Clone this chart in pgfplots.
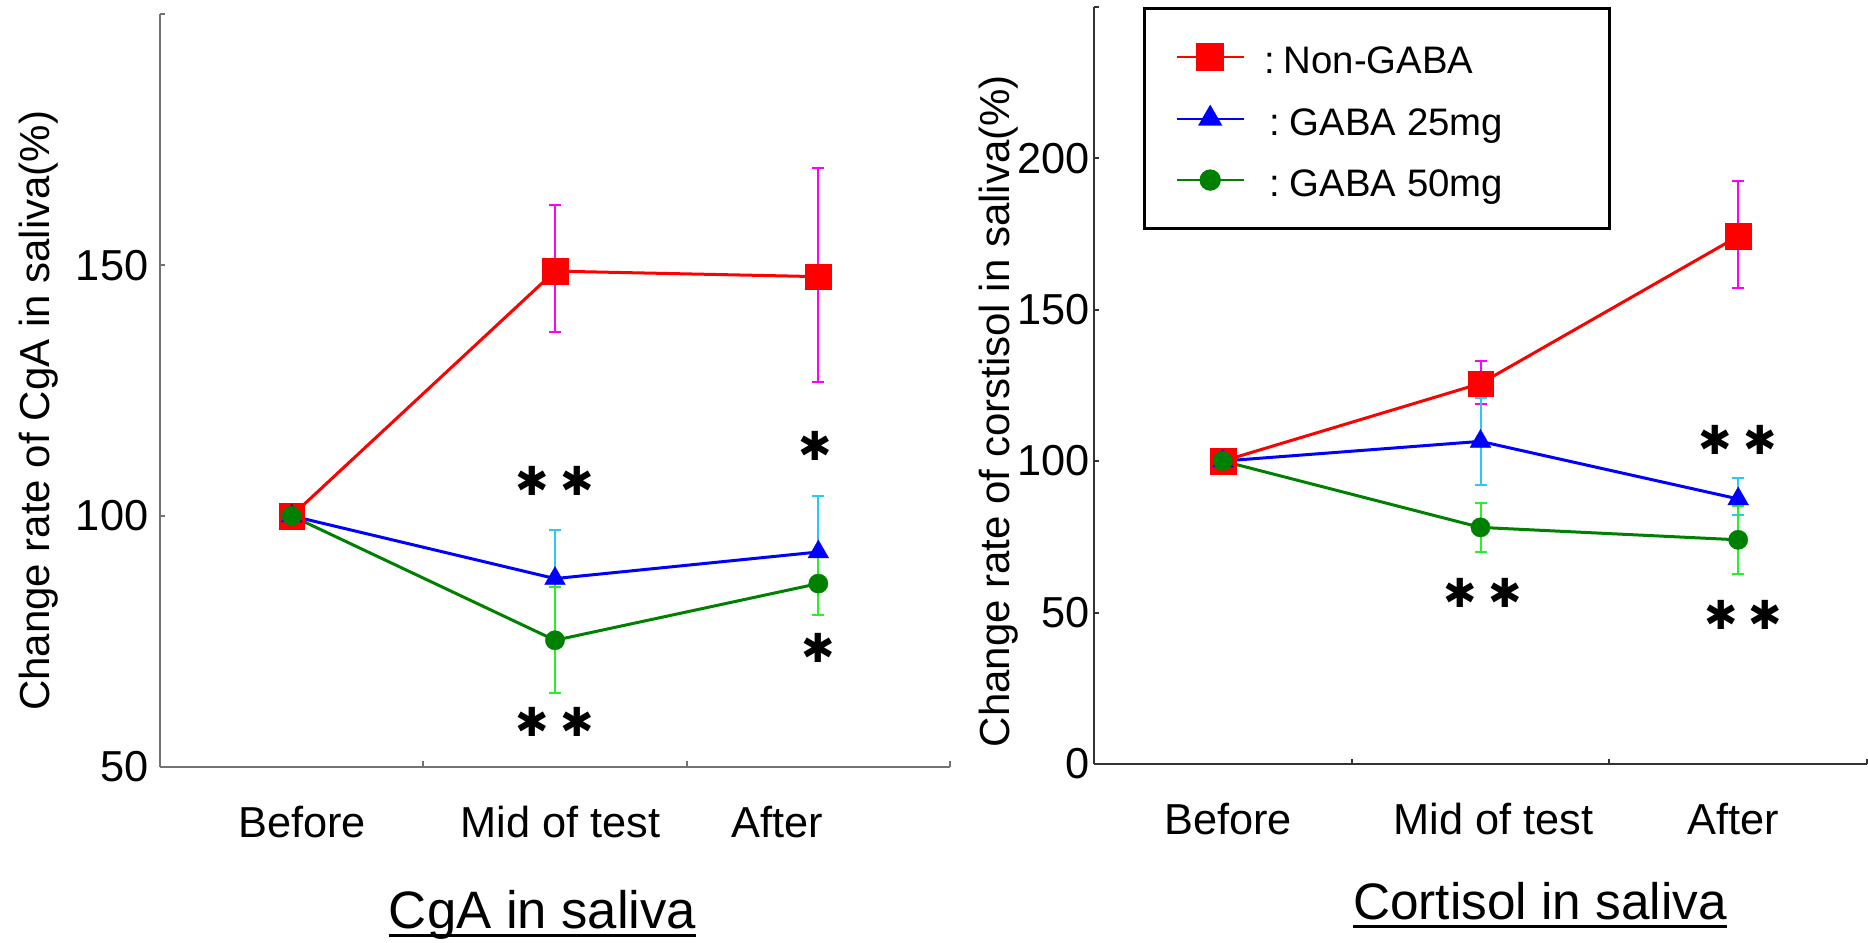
\documentclass[border=0pt]{standalone}
\usepackage{pgfplots}
\usepackage{pgfplotstable}
\pgfplotsset{compat=1.18}
\usepackage{fontspec}
\setmainfont{Liberation Sans}
\newfontfamily\dejavu{DejaVu Sans}
\definecolor{cred}{RGB}{255,0,0}
\definecolor{cblue}{RGB}{0,0,255}
\definecolor{cgreen}{RGB}{0,128,0}
\definecolor{emag}{RGB}{255,0,255}
\definecolor{ecyan}{RGB}{40,200,255}
\definecolor{egreen}{RGB}{40,240,40}
\newcommand\ulx[1]{\setbox0\hbox{#1}\rlap{\rule[-2.4pt]{\wd0}{0.75pt}}\box0}
\newcommand\st{{\dejavu ✱}}
\newcommand\sts{{\dejavu ✱\hspace{3.4pt}✱}}
\newcommand\lstrut{\rule[-2.95pt]{0pt}{14.4pt}}
\tikzset{asterisk/.style={font=\fontsize{12}{12}\selectfont, inner sep=0pt}}

% CgA in saliva
\pgfplotstableread{
x y ep em
1 100 0 0
2 148.8 13.1 12.2
3 147.7 21.7 21.0
}\cgared
\pgfplotstableread{
x y ep em
1 100 0 0
2 87.5 9.6 12.3
3 92.8 11.2 6.3
}\cgablue
\pgfplotstableread{
x y ep em
1 100 0 0
2 75.2 10.6 10.6
3 86.5 6.3 6.3
}\cgagreen
% Cortisol in saliva
\pgfplotstableread{
x y ep em
1 100 0 0
2 125.6 7.3 6.9
3 174.2 18.1 17.2
}\corred
\pgfplotstableread{
x y ep em
1 100 0 0
2 106.5 14.4 14.5
3 87.5 6.9 5.2
}\corblue
\pgfplotstableread{
x y ep em
1 100 0 0
2 78.1 8.1 8.1
3 74.0 11.3 11.3
}\corgreen

\pgfplotsset{
  panel/.style={
    scale only axis,
    axis x line*=bottom, axis y line*=left,
    xtick pos=bottom, ytick pos=left,
    xmin=0.5, xmax=3.5,
    xtick={1.5,2.5,3.5}, xticklabels={,,},
    tick align=inside, major tick length=1.6pt,
    clip=false,
    /pgf/number format/assume math mode=true,
    tick label style={font=\fontsize{13}{14}\selectfont},
    label style={font=\fontsize{12.6}{14}\selectfont},
    x tick label style={yshift=-8.3pt},
  },
  errs/.style={
    error bars/y dir=both, error bars/y explicit, error bars/error mark=|,
    error bars/error bar style={#1, line width=0.6pt},
    error bars/error mark options={#1, line width=0.6pt, mark size=1.8pt}},
  pred/.style={cred, line width=0.9pt, mark=square*, mark size=3.85pt,
    mark options={solid, fill=cred, draw=cred, line width=0.1pt}, errs=emag},
  pblue/.style={cblue, line width=0.9pt, mark=triangle*, mark size=3.6pt,
    mark options={solid, fill=cblue, draw=cblue, line width=0.1pt}, errs=ecyan},
  pgreen/.style={cgreen, line width=0.9pt, mark=*, mark size=2.9pt,
    mark options={solid, fill=cgreen, draw=cgreen, line width=0.1pt}, errs=egreen},
}

\begin{document}
\begin{tikzpicture}
\path[use as bounding box] (0,0) rectangle (560.4pt,-282.9pt);

% ---------- left panel ----------
\begin{axis}[panel,
  at={(48pt,-230pt)}, anchor=south west,
  width=237pt, height=225.7pt,
  ymin=50, ymax=200,
  ytick={50,100,150,200}, yticklabels={50,100,150,{}},
  axis line style={black!55, line width=0.6pt},
  every tick/.style={black!55, line width=0.6pt},
  extra x ticks={1.04,2.02,2.845},
  extra x tick labels={Before, Mid of test, After},
  extra x tick style={major tick length=0pt},
  ylabel={Change rate of CgA in saliva(\%)},
  ylabel style={at={(axis description cs:-0.153,0.473)}, anchor=center},
]
\addplot[pred] table[x=x, y=y, y error plus=ep, y error minus=em] {\cgared};
\addplot[pblue] table[x=x, y=y, y error plus=ep, y error minus=em] {\cgablue};
\addplot[pgreen] table[x=x, y=y, y error plus=ep, y error minus=em] {\cgagreen};
\node[asterisk] at (axis cs:2,107) {\sts};
\node[asterisk] at (axis cs:2.99,114) {\st};
\node[asterisk] at (axis cs:3.0,73.6) {\st};
\node[asterisk] at (axis cs:2,59) {\sts};
\end{axis}

% ---------- right panel ----------
\begin{axis}[panel,
  at={(328.2pt,-229.2pt)}, anchor=south west,
  width=231.9pt, height=227.2pt,
  ymin=0, ymax=250,
  ytick={0,50,100,150,200,250}, yticklabels={0,50,100,150,200,{}},
  y tick label style={inner xsep=1.2pt},
  axis line style={black!80, line width=0.6pt},
  every tick/.style={black!80, line width=0.6pt},
  extra x ticks={1.02,2.05,2.98},
  extra x tick labels={Before, Mid of test, After},
  extra x tick style={major tick length=0pt},
  ylabel={Change rate of corstisol in saliva(\%)},
  ylabel style={at={(axis description cs:-0.124,0.466)}, anchor=center},
  legend image code/.code={\draw[mark repeat=2, mark phase=2, #1] plot coordinates {(0pt,0pt) (10pt,0pt) (20pt,0pt)};},
  legend cell align=left,
  legend style={at={(rel axis cs:0.063,1.0)}, anchor=north west,
    draw=black, line width=0.9pt, fill=white,
    inner xsep=9.5pt, inner ysep=6.2pt, row sep=1.5pt,
    nodes={inner sep=2pt},
    font=\fontsize{11.5}{13}\selectfont},
]
\addplot[pred, forget plot] table[x=x, y=y, y error plus=ep, y error minus=em] {\corred};
\addplot[pblue, forget plot] table[x=x, y=y, y error plus=ep, y error minus=em] {\corblue};
\addplot[pgreen, forget plot] table[x=x, y=y, y error plus=ep, y error minus=em] {\corgreen};
\addlegendimage{cred, line width=0.6pt, mark=square*, mark size=3.85pt, mark options={solid, fill=cred, draw=cred}}
\addlegendentry{\makebox[96pt][l]{\lstrut\hspace{4.0pt}:\hspace{2.6pt}Non-GABA}}
\addlegendimage{cblue, line width=0.6pt, mark=triangle*, mark size=3.6pt, mark options={solid, fill=cblue, draw=cblue}}
\addlegendentry{\makebox[96pt][l]{\lstrut\hspace{5.4pt}:\hspace{3.0pt}GABA 25mg}}
\addlegendimage{cgreen, line width=0.6pt, mark=*, mark size=2.9pt, mark options={solid, fill=cgreen, draw=cgreen}}
\addlegendentry{\makebox[96pt][l]{\lstrut\hspace{5.4pt}:\hspace{3.0pt}GABA 50mg}}
\node[asterisk] at (axis cs:3.0,107) {\sts};
\node[asterisk] at (axis cs:2.01,56.5) {\sts};
\node[asterisk] at (axis cs:3.02,49.3) {\sts};
\end{axis}

% ---------- titles ----------
\node[anchor=base, font=\fontsize{15.8}{18}\selectfont] at (162.8pt,-278.7pt) {\ulx{CgA in saliva}};
\node[anchor=base, font=\fontsize{15.4}{18}\selectfont] at (462pt,-276pt) {\ulx{Cortisol in saliva}};
\end{tikzpicture}
\end{document}
